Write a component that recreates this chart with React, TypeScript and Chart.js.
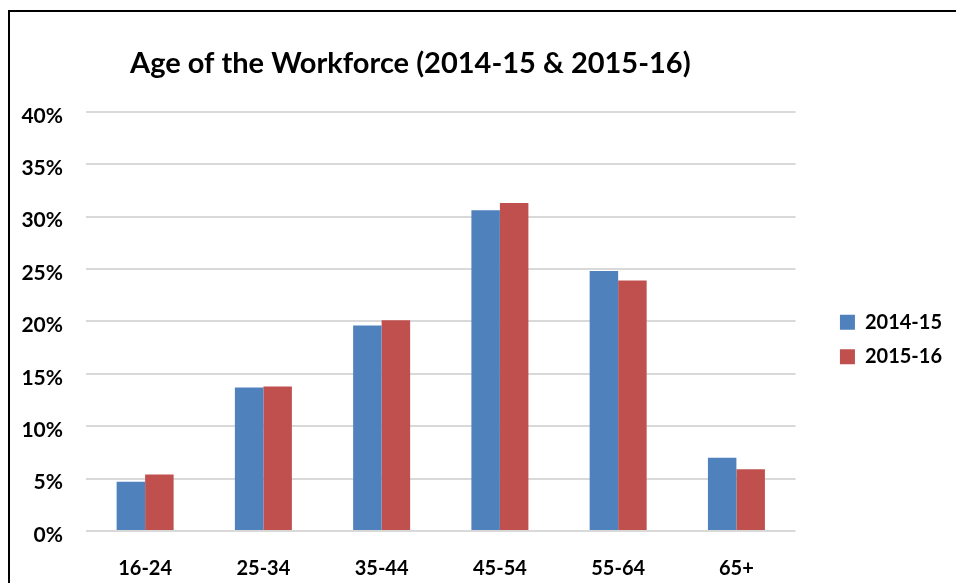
import React, { useEffect, useRef } from "react";
import { Chart, registerables } from "chart.js";

Chart.register(...registerables);

const categories = ["16-24", "25-34", "35-44", "45-54", "55-64", "65+"];
const series2014 = [4.7, 13.7, 19.6, 30.6, 24.8, 7.0];
const series2015 = [5.4, 13.8, 20.1, 31.3, 23.9, 5.9];
const seriesNames = ["2014-15", "2015-16"];
const yTicks = [0, 5, 10, 15, 20, 25, 30, 35, 40];
const titleText = "Age of the Workforce (2014-15 & 2015-16)";

const FONT = "Lato, 'Open Sans', sans-serif";

const shiftPlugin = {
  id: "shiftBoxes",
  afterLayout(chart: any) {
    const l = chart.legend;
    if (l) {
      l.left += 30;
      l.right += 30;
      l.top += 50;
      l.bottom += 50;
    }
    const t = chart.titleBlock;
    if (t) {
      const w = t.right - t.left;
      t.left = 130;
      t.right = 130 + w;
    }
    const y = chart.scales.y;
    if (y && !y.__wrapped) {
      const orig = y.drawLabels.bind(y);
      y.drawLabels = (area: any) => {
        const ctx = y.ctx;
        ctx.save();
        ctx.translate(0, 4);
        orig(area);
        ctx.restore();
      };
      y.__wrapped = true;
    }
  },
};

export default function App() {
  const ref = useRef<HTMLCanvasElement | null>(null);
  useEffect(() => {
    document.body.style.margin = "0";
    document.body.style.overflow = "hidden";
    const chart = new Chart(ref.current!, {
      type: "bar",
      data: {
        labels: categories,
        datasets: [
          {
            label: seriesNames[0],
            data: series2014,
            backgroundColor: "#4f81bd",
            categoryPercentage: 0.482,
            barPercentage: 1,
          },
          {
            label: seriesNames[1],
            data: series2015,
            backgroundColor: "#c0504d",
            categoryPercentage: 0.482,
            barPercentage: 1,
          },
        ],
      },
      options: {
        animation: false,
        responsive: false,
        maintainAspectRatio: false,
        layout: { padding: { left: 0, top: 0, right: 34, bottom: 4 } },
        plugins: {
          title: {
            display: true,
            text: titleText,
            align: "start",
            color: "#000",
            font: { family: FONT, size: 29, weight: "bold" },
            padding: { top: 46, bottom: 31 },
          },
          legend: {
            position: "right",
            align: "center",
            labels: {
              color: "#000",
              font: { family: FONT, size: 20, weight: "bold" },
              boxWidth: 15,
              boxHeight: 15,
              padding: 14.4,
            },
          },
          tooltip: { enabled: false },
        },
        scales: {
          x: {
            afterFit(scale: any) {
              scale.height = 48;
            },
            grid: { display: false, drawTicks: false },
            border: { display: false },
            ticks: {
              color: "#000",
              font: { family: FONT, size: 20, weight: "bold" },
              padding: 26,
              maxRotation: 0,
            },
          },
          y: {
            min: 0,
            max: 40,
            afterFit(scale: any) {
              scale.width = 86;
            },
            afterBuildTicks(scale: any) {
              scale.ticks = yTicks.map((v) => ({ value: v }));
            },
            grid: { color: "#d9d9d9", lineWidth: 2, drawTicks: false },
            border: { display: false },
            ticks: {
              color: "#000",
              font: { family: FONT, size: 21, weight: "bold" },
              padding: 23,
              callback: (v: any) => v + "%",
            },
          },
        },
      },
      plugins: [shiftPlugin],
    });
    return () => chart.destroy();
  }, []);
  return (
    <div style={{ position: "relative", width: 956, height: 583, overflow: "hidden", background: "#fff" }}>
      <div
        style={{
          position: "absolute",
          left: 8,
          top: 10,
          width: 1000,
          height: 700,
          border: "2px solid #000",
          boxSizing: "border-box",
        }}
      />
      <canvas ref={ref} width={956} height={583} style={{ position: "absolute", left: 0, top: 0, width: 956, height: 583 }} />
    </div>
  );
}
